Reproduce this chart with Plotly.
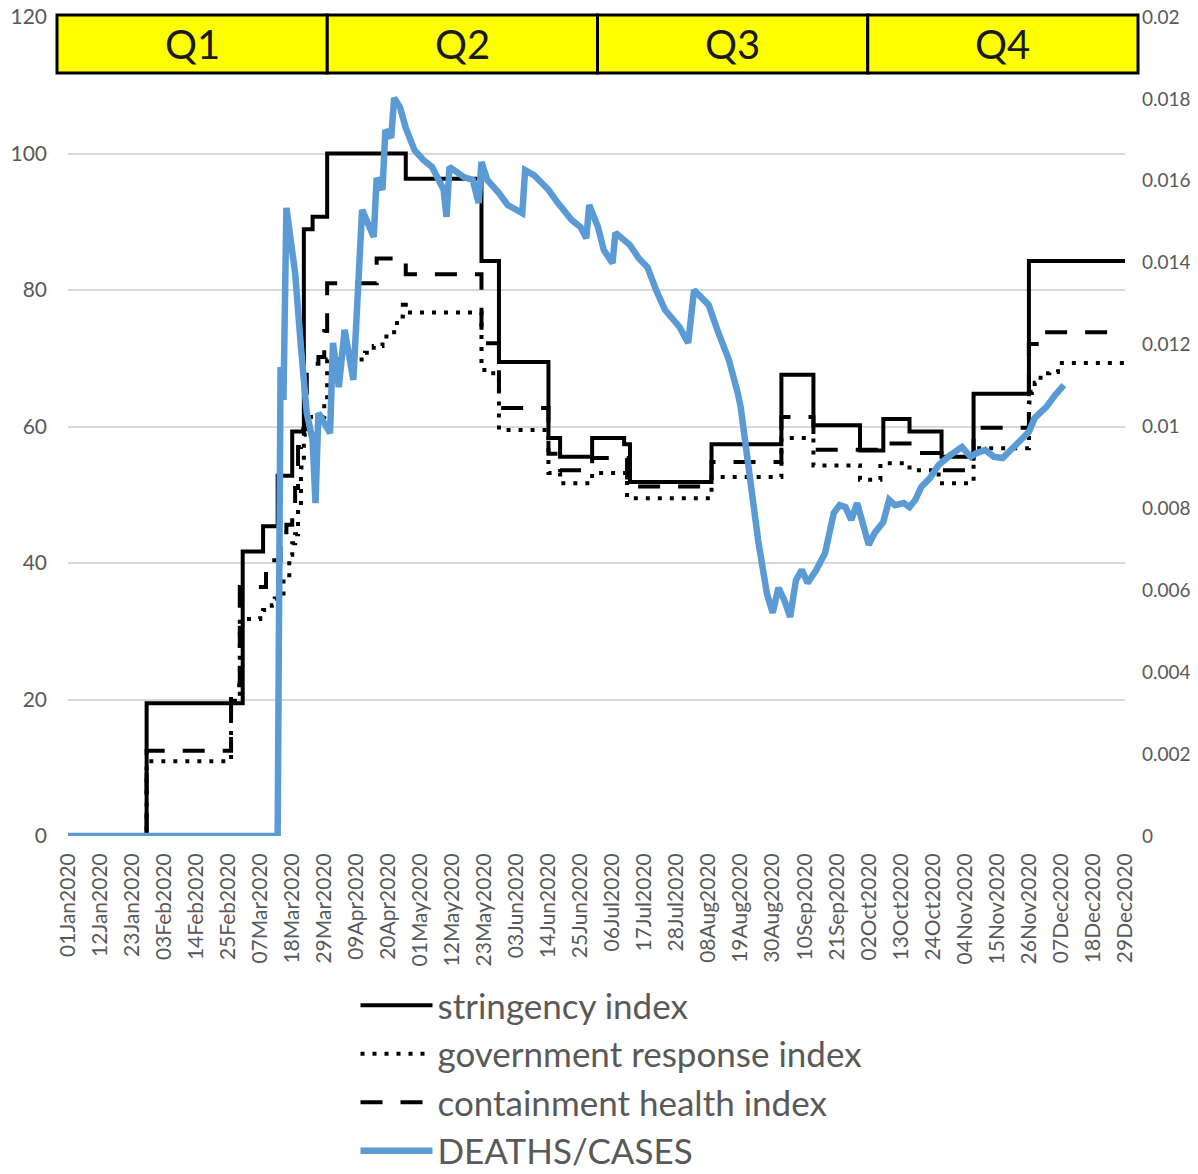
import pandas as pd
import plotly.graph_objects as go

BASE = pd.Timestamp("2020-01-01")

# Stringency index: day-of-year (0 = 01Jan2020) where the value changes, and the new value
stringency_day = [0, 27, 60, 67, 72, 77, 81, 84, 89, 116, 142, 148, 165, 169, 180, 191, 193,
                  221, 245, 256, 272, 280, 289, 300, 311, 330, 363]
stringency_val = [0, 19.44, 41.67, 45.37, 52.78, 59.26, 88.89, 90.74, 100, 96.3, 84.26, 69.44,
                  58.33, 55.56, 58.33, 57.41, 51.85, 57.41, 67.59, 60.19, 56.48, 61.11, 59.26,
                  55.56, 64.81, 84.26, 84.26]

# Government response index
govresp_day = [0, 27, 56, 59, 66, 67, 70, 71, 74, 76, 77, 78, 79, 80, 81, 83, 88, 89, 102, 105,
               108, 112, 113, 115, 116, 142, 143, 148, 165, 169, 180, 192, 221, 245, 256, 272,
               279, 289, 299, 311, 330, 331, 332, 334, 337, 340, 363]
govresp_val = [0, 10.94, 19.8, 31.8, 31.9, 33.1, 33.8, 34.8, 38.2, 41.2, 42.9, 44.2, 48.0, 54.0,
               58.8, 61.4, 63.4, 69.8, 70.8, 71.8, 73.2, 74.4, 76.1, 78.5, 76.7, 69.3, 67.8, 59.5,
               53.2, 51.7, 53.2, 49.5, 52.6, 58.3, 54.3, 52.2, 54.6, 53.6, 51.7, 56.8, 63.5, 65.1,
               66.4, 67.8, 68.0, 69.3, 69.3]

# Containment health index
contain_day = [0, 27, 56, 59, 68, 73, 75, 77, 78, 79, 80, 82, 86, 88, 89, 106, 116, 142, 148,
               165, 169, 180, 192, 221, 245, 256, 280, 289, 300, 311, 330, 335, 363]
contain_val = [0, 12.5, 22.1, 36.5, 40.4, 44.5, 45.6, 48.1, 51.0, 57.0, 59.6, 69.2, 70.2, 74.0,
               81.0, 84.6, 82.3, 72.2, 62.7, 56.0, 53.6, 55.4, 51.2, 54.8, 61.4, 56.6, 57.5, 56.1,
               53.6, 59.8, 72.1, 73.8, 73.8]

# DEATHS/CASES (right axis)
ratio_day = [0, 72, 73, 74, 75, 78, 80, 82, 84, 85, 86, 88, 90, 91, 93, 95, 98, 101, 105, 106,
             108, 109, 111, 112, 114, 116, 119, 122, 125, 129, 130, 131, 136, 139, 141, 142, 144,
             148, 151, 156, 157, 160, 165, 168, 173, 176, 178, 179, 182, 184, 187, 188, 193, 196,
             199, 202, 205, 210, 213, 215, 220, 223, 227, 230, 231, 234, 237, 240, 242, 244, 246,
             248, 250, 252, 254, 257, 260, 263, 265, 267, 269, 271, 273, 275, 277, 280, 282, 284,
             287, 289, 291, 293, 296, 299, 303, 307, 310, 312, 315, 318, 321, 324, 328, 330, 332,
             336, 339, 342]
ratio_val = [0, 0, 0.01145, 0.01065, 0.01534, 0.01375, 0.01194, 0.01033, 0.00967, 0.00813,
             0.01033, 0.01009, 0.00984, 0.01204, 0.01096, 0.01236, 0.01114, 0.01529, 0.01463,
             0.01607, 0.01578, 0.01724, 0.01705, 0.01802, 0.0178, 0.01729, 0.01675, 0.01651,
             0.01634, 0.01578, 0.01512, 0.01634, 0.01609, 0.01602, 0.01546, 0.01646, 0.01602,
             0.0157, 0.01541, 0.01521, 0.01626, 0.01614, 0.01578, 0.01548, 0.01504, 0.01487,
             0.0146, 0.01541, 0.01487, 0.01431, 0.01399, 0.01473, 0.01443, 0.01411, 0.01389,
             0.01333, 0.01285, 0.01243, 0.01204, 0.01333, 0.01297, 0.01236, 0.01162, 0.01082,
             0.01048, 0.00886, 0.00723, 0.00593, 0.00545, 0.00606, 0.00576, 0.00535, 0.00625,
             0.0065, 0.00618, 0.0065, 0.00691, 0.00789, 0.00808, 0.00803, 0.00772, 0.00813,
             0.00755, 0.00711, 0.0074, 0.00767, 0.00821, 0.00808, 0.00813, 0.00803, 0.00821,
             0.00852, 0.00874, 0.00906, 0.0093, 0.0095, 0.00926, 0.00935, 0.00943, 0.00926,
             0.00923, 0.00943, 0.00972, 0.00987, 0.01021, 0.01048, 0.01077, 0.01101]

quarters = ["Q1", "Q2", "Q3", "Q4"]
left_ticks = [0, 20, 40, 60, 80, 100, 120]
right_ticks = [0, 0.002, 0.004, 0.006, 0.008, 0.01, 0.012, 0.014, 0.016, 0.018, 0.02]
right_ticktext = ["0", "0.002", "0.004", "0.006", "0.008", "0.01", "0.012", "0.014", "0.016",
                  "0.018", "0.02"]


def to_dates(days):
    return [BASE + pd.Timedelta(days=d) for d in days]


FONT = "Lato, 'Open Sans', sans-serif"
GRAY = "#595959"

fig = go.Figure()
fig.add_trace(go.Scatter(x=to_dates(stringency_day), y=stringency_val, mode="lines",
                         line=dict(color="black", width=4, shape="hv"),
                         name="stringency index"))
fig.add_trace(go.Scatter(x=to_dates(govresp_day), y=govresp_val, mode="lines",
                         line=dict(color="black", width=4, shape="hv", dash="4px,8px"),
                         name="government response index"))
fig.add_trace(go.Scatter(x=to_dates(contain_day), y=contain_val, mode="lines",
                         line=dict(color="black", width=4, shape="hv", dash="22px,18px"),
                         name="containment health index"))
fig.add_trace(go.Scatter(x=to_dates(ratio_day), y=ratio_val, mode="lines", yaxis="y2",
                         line=dict(color="#5B9BD5", width=6.5),
                         name="DEATHS/CASES"))

# Quarter header boxes (paper coords, spanning the plot width)
x0 = -0.0104
w = (1.0123 - x0) / 4
for i, q in enumerate(quarters):
    fig.add_shape(type="rect", xref="paper", yref="paper",
                  x0=x0 + i * w, x1=x0 + (i + 1) * w, y0=0.9316, y1=1.0025,
                  fillcolor="#FFFF00", line=dict(color="black", width=3), layer="above")
    fig.add_annotation(xref="paper", yref="paper", x=x0 + (i + 0.5) * w, y=0.967,
                       text=q, showarrow=False, font=dict(family=FONT, size=40, color="#1a1a1a"),
                       xanchor="center", yanchor="middle")

fig.update_layout(
    width=1198, height=1174,
    margin=dict(l=68, r=73, t=17, b=338, autoexpand=False),
    plot_bgcolor="white", paper_bgcolor="white",
    font=dict(family=FONT, color=GRAY),
    hovermode=False,
    showlegend=True,
    legend=dict(x=0.272, y=-0.171, xanchor="left", yanchor="top",
                font=dict(family=FONT, size=35, color=GRAY),
                itemwidth=72, bgcolor="rgba(0,0,0,0)", tracegroupgap=0),
    xaxis=dict(type="date", range=[BASE, BASE + pd.Timedelta(days=363)],
               tick0=BASE, dtick=11 * 86400000, tickformat="%d%b%Y", tickangle=-90,
               tickfont=dict(family=FONT, size=21, color=GRAY), showgrid=False,
               showline=False, ticks="", ticklabelstandoff=12, ticklabeloverflow="allow"),
    yaxis=dict(range=[0, 120], tickvals=left_ticks, showgrid=True, gridcolor="#D9D9D9",
               gridwidth=1.5, zeroline=False, showline=False, ticks="",
               tickfont=dict(family=FONT, size=21, color=GRAY), ticklabelstandoff=20,
               ticklabeloverflow="allow"),
    yaxis2=dict(range=[0, 0.02], tickvals=right_ticks, ticktext=right_ticktext,
                overlaying="y", side="right", showgrid=False, zeroline=False,
                showline=False, ticks="", ticklabeloverflow="allow",
                tickfont=dict(family=FONT, size=19, color=GRAY), ticklabelstandoff=16),
)

fig.write_html("out.html", config={"displayModeBar": False},
               post_script="document.body.style.margin='0px';")
